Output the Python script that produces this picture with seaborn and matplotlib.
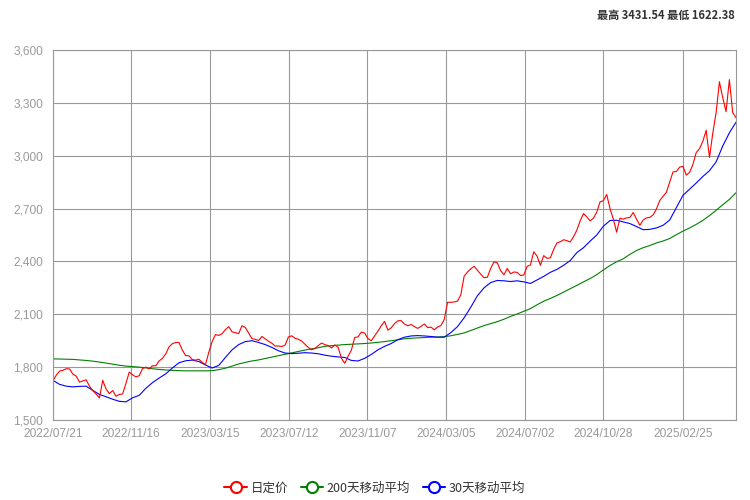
import pandas as pd
import matplotlib
matplotlib.use("Agg")
import matplotlib.pyplot as plt
import matplotlib.dates as mdates
from matplotlib.lines import Line2D
from matplotlib.ticker import FuncFormatter
import seaborn as sns

# 日定价, 5天一个点 (从 2022/07/21 起)
price = [1722, 1755, 1778, 1782, 1791, 1790, 1760, 1749, 1715, 1722,
         1728, 1692, 1667, 1648, 1625, 1725, 1676, 1650, 1667, 1635,
         1645, 1648, 1708, 1772, 1756, 1745, 1751, 1792, 1800, 1790,
         1808, 1808, 1835, 1850, 1875, 1915, 1933, 1940, 1940, 1897,
         1866, 1864, 1843, 1840, 1845, 1827, 1815, 1885, 1945, 1985,
         1980, 1990, 2013, 2030, 2000, 1996, 1990, 2035, 2025, 1993,
         1962, 1958, 1951, 1974, 1961, 1947, 1936, 1920, 1920, 1917,
         1925, 1971, 1978, 1964, 1958, 1948, 1930, 1912, 1899, 1906,
         1922, 1937, 1928, 1922, 1909, 1926, 1913, 1850, 1822, 1862,
         1897, 1968, 1972, 1999, 1993, 1962, 1950, 1977, 2004, 2035,
         2060, 2010, 2023, 2047, 2063, 2064, 2045, 2035, 2042, 2030,
         2020, 2031, 2045, 2025, 2027, 2012, 2028, 2036, 2070, 2168,
         2168, 2170, 2175, 2210, 2316, 2340, 2358, 2372, 2350, 2328,
         2308, 2310, 2360, 2398, 2392, 2348, 2324, 2360, 2330, 2340,
         2338, 2320, 2323, 2372, 2380, 2455, 2430, 2378, 2433, 2418,
         2420, 2468, 2505, 2512, 2523, 2518, 2510, 2540, 2578, 2630,
         2672, 2653, 2630, 2645, 2680, 2738, 2745, 2780, 2700, 2640,
         2566, 2645, 2640, 2647, 2650, 2678, 2640, 2605, 2635, 2647,
         2650, 2664, 2698, 2745, 2770, 2792, 2850, 2908, 2910, 2935,
         2940, 2890, 2905, 2950, 3018, 3040, 3082, 3145, 2990, 3128,
         3245, 3420, 3330, 3250, 3431.54, 3245, 3215]

# 30天移动平均, 10天一个点
ma30 = [1725, 1702, 1692, 1688, 1691, 1692, 1668, 1645, 1632, 1618,
        1606, 1603, 1626, 1640, 1680, 1712, 1738, 1762, 1795, 1825,
        1836, 1840, 1832, 1812, 1795, 1810, 1855, 1898, 1928, 1945,
        1950, 1940, 1928, 1912, 1893, 1880, 1877, 1879, 1882, 1880,
        1876, 1868, 1862, 1858, 1855, 1838, 1835, 1850, 1872, 1898,
        1918, 1934, 1956, 1970, 1977, 1979, 1977, 1974, 1970, 1970,
        1996, 2030, 2080, 2140, 2205, 2250, 2280, 2292, 2290, 2286,
        2290, 2284, 2275, 2295, 2315, 2338, 2355, 2378, 2405, 2450,
        2478, 2515, 2550, 2600, 2632, 2634, 2624, 2615, 2598, 2580,
        2582, 2590, 2605, 2635, 2705, 2775, 2810, 2845, 2882, 2915,
        2965, 3055, 3130, 3190]

# 200天移动平均, 10天一个点
ma200 = [1847, 1846, 1845, 1844, 1841, 1838, 1834, 1829, 1823, 1817,
         1811, 1806, 1803, 1800, 1796, 1791, 1787, 1784, 1782, 1780,
         1779, 1779, 1779, 1779, 1780, 1786, 1794, 1806, 1818, 1827,
         1835, 1841, 1849, 1857, 1865, 1873, 1881, 1889, 1897, 1904,
         1910, 1918, 1922, 1925, 1928, 1930, 1932, 1934, 1937, 1941,
         1945, 1950, 1955, 1961, 1964, 1966, 1968, 1970, 1971, 1973,
         1978, 1986, 1994, 2008, 2022, 2036, 2047, 2058, 2072, 2088,
         2102, 2117, 2132, 2154, 2174, 2190, 2207, 2226, 2245, 2264,
         2284, 2303, 2325, 2352, 2377, 2398, 2415, 2440, 2462, 2478,
         2490, 2505, 2516, 2530, 2552, 2572, 2590, 2610, 2633, 2660,
         2690, 2722, 2752, 2790]

tick_dates = ["2022/07/21", "2022/11/16", "2023/03/15", "2023/07/12", "2023/11/07",
              "2024/03/05", "2024/07/02", "2024/10/28", "2025/02/25"]
y_ticks = [1500, 1800, 2100, 2400, 2700, 3000, 3300, 3600]
series_names = ["日定价", "200天移动平均", "30天移动平均"]
series_colors = ["#ff0000", "#008000", "#0000ff"]

df_price = pd.DataFrame({"date": pd.date_range("2022-07-21", periods=len(price), freq="5D"),
                         "value": price})
df_ma = pd.DataFrame({"date": pd.date_range("2022-07-21", periods=len(ma30), freq="10D"),
                      "ma30": ma30, "ma200": ma200})

sns.set_style("white")
plt.rcParams["font.family"] = ["Liberation Sans", "Noto Sans CJK SC", "DejaVu Sans"]

fig = plt.figure(figsize=(7.5, 5), dpi=100)
ax = fig.add_axes([53 / 750, 1 - 420 / 500, 683 / 750, 370 / 500])

grid_c = "#999999"
sns.lineplot(data=df_ma, x="date", y="ma200", color=series_colors[1], lw=0.8, ax=ax)
sns.lineplot(data=df_ma, x="date", y="ma30", color=series_colors[2], lw=0.8, ax=ax)
sns.lineplot(data=df_price, x="date", y="value", color=series_colors[0], lw=0.8, ax=ax)

ax.set_xlim(df_price["date"].iloc[0], df_price["date"].iloc[-1])
ax.set_ylim(1500, 3600)
ax.set_yticks(y_ticks)
ax.yaxis.set_major_formatter(FuncFormatter(lambda v, p: f"{v:,.0f}"))
ax.set_xticks(pd.to_datetime(tick_dates, format="%Y/%m/%d"))
ax.xaxis.set_major_formatter(mdates.DateFormatter("%Y/%m/%d"))
ax.set_xlabel("")
ax.set_ylabel("")

ax.grid(True, color=grid_c, lw=0.8)
ax.set_axisbelow(True)
for s in ax.spines.values():
    s.set_color(grid_c)
    s.set_linewidth(0.8)
ax.tick_params(axis="both", length=0, colors="#999999", labelsize=8.6)
ax.tick_params(axis="x", pad=6)
ax.tick_params(axis="y", pad=7)

fig.text(735 / 750, 1 - 15 / 500, f"最高 {max(price):.2f} 最低 1622.38",
         ha="right", va="center", fontsize=8, fontweight="bold", color="#333333",
         family=["Noto Sans CJK SC", "Liberation Sans"])

handles = [Line2D([0], [0], color=c, lw=1.5, marker="o", markersize=8,
                  markerfacecolor="white", markeredgewidth=1.5) for c in series_colors]
leg = fig.legend(handles, series_names, loc="center", bbox_to_anchor=(0.5, 1 - 488 / 500),
                 ncol=3, frameon=False, handlelength=1.8, columnspacing=1.0,
                 handletextpad=0.3, prop={"family": ["Noto Sans CJK SC"], "size": 9})
for t in leg.get_texts():
    t.set_color("#333333")

fig.savefig("out.png", dpi=100)
